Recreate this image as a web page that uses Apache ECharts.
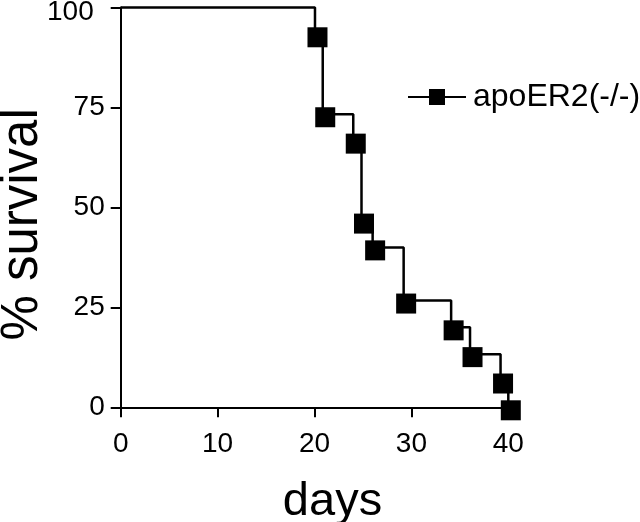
<!DOCTYPE html>
<html>
<head>
<meta charset="utf-8">
<script src="https://cdn.jsdelivr.net/npm/echarts@6/dist/echarts.min.js"></script>
<style>
html,body{margin:0;padding:0;background:#fff;}
#chart{width:640px;height:522px;}
</style>
</head>
<body>
<div id="chart"></div>
<script>
// Kaplan-Meier survival data
var seriesName = 'apoER2(-/-)';
var days = [0, 20.05, 20.85, 24.0, 24.85, 26.0, 29.2, 34.1, 36.05, 39.2, 40.0];
var survival = [100, 93.3, 73.3, 66.7, 46.7, 40.0, 26.7, 20.0, 13.3, 6.7, 0];
var xTicks = [0, 10, 20, 30, 40];
var yTicks = [0, 25, 50, 75, 100];

var FONT = '"Liberation Sans", Arial, sans-serif';

var data = days.map(function (d, i) {
  var item = { value: [d, survival[i]] };
  if (i === 0) item.symbol = 'none';
  return item;
});

var chart = echarts.init(document.getElementById('chart'), null, { renderer: 'canvas' });
chart.setOption({
  animation: false,
  backgroundColor: '#fff',
  grid: {
    left: 120.7, right: 131.7, top: 7.5, bottom: 114.7,
    outerBoundsMode: 'none'
  },
  legend: {
    left: 402, top: 76,
    itemWidth: 58, itemHeight: 20, itemGap: 10,
    textStyle: { fontFamily: FONT, fontSize: 32, color: '#000', padding: [0, 0, 0, 2] },
    data: [seriesName]
  },
  xAxis: {
    type: 'value',
    min: xTicks[0], max: xTicks[xTicks.length - 1], interval: 10,
    name: 'days', nameLocation: 'middle', nameGap: 71, nameMoveOverlap: false,
    nameTextStyle: { fontFamily: FONT, fontSize: 47, color: '#000', padding: [0, 0, 0, 36] },
    axisLine: { show: true, lineStyle: { color: '#000', width: 2 } },
    axisTick: { show: true, length: 10, lineStyle: { color: '#000', width: 2 } },
    axisLabel: { fontFamily: FONT, fontSize: 28, color: '#000', margin: 23 },
    splitLine: { show: false }
  },
  yAxis: {
    type: 'value',
    min: yTicks[0], max: yTicks[yTicks.length - 1], interval: 25,
    name: '% survival', nameLocation: 'middle', nameGap: 72, nameMoveOverlap: false,
    nameTextStyle: { fontFamily: FONT, fontSize: 51, color: '#000', padding: [0, 34, 0, 0] },
    axisLine: { show: true, lineStyle: { color: '#000', width: 2 } },
    axisTick: { show: true, length: 10, lineStyle: { color: '#000', width: 2 } },
    axisLabel: {
      fontFamily: FONT, fontSize: 28, color: '#000', margin: 16,
      formatter: function (v) { return v === 100 ? '{w|100}' : String(v); },
      rich: { w: { fontFamily: FONT, fontSize: 28, color: '#000', padding: [10, 11, 0, 0] } }
    },
    splitLine: { show: false }
  },
  series: [{
    name: seriesName,
    type: 'line',
    step: 'end',
    data: data,
    symbol: 'rect',
    symbolSize: 20,
    symbolOffset: [2.5, 3],
    showAllSymbol: true,
    lineStyle: { color: '#000', width: 2.5 },
    itemStyle: { color: '#000' },
    clip: false
  }]
});
</script>
</body>
</html>
